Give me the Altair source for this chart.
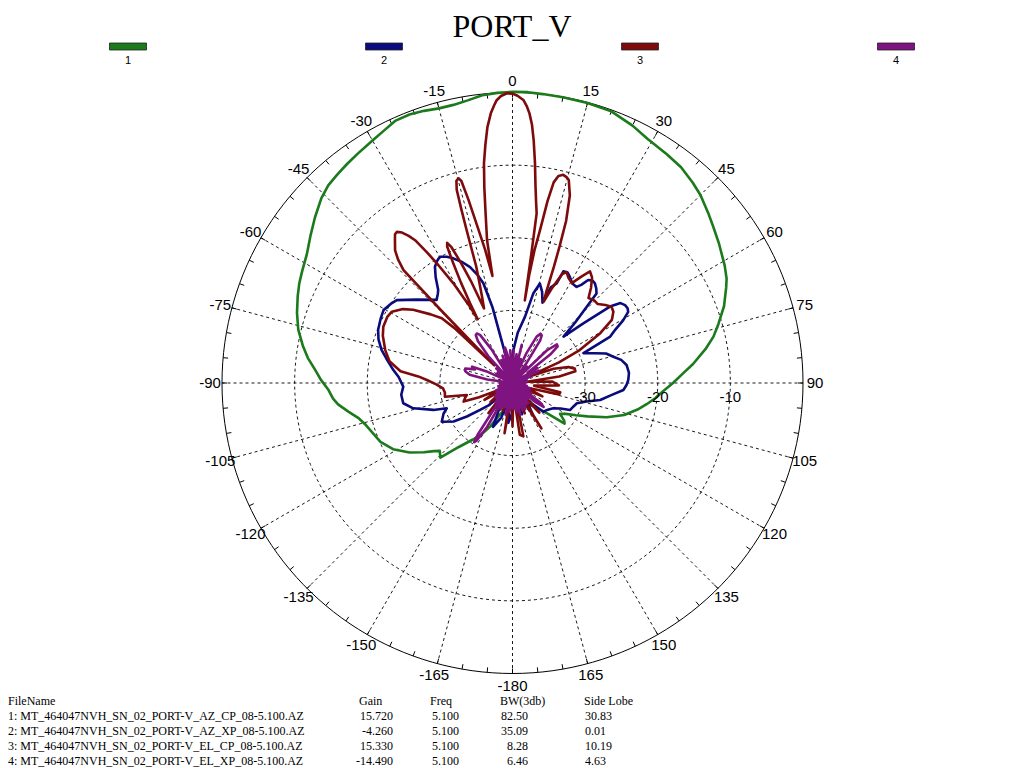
import altair as alt
import pandas as pd

TITLE = "PORT_V"
SERIES = ["1", "2", "3", "4"]
COLORS = ["#1b7a1b", "#0b0b7d", "#7d0b0b", "#7f137f"]

# (angle deg, level dB)
GREEN = [(-180,-37.5),(-170,-37),(-162,-36),(-157,-35),(-153,-33.3),(-149,-31.8),(-145,-30.5),(-140,-28.5),
         (-136,-25.7),(-133,-26.3),(-131,-25.7),(-128,-24.5),(-124,-22.9),(-119,-21.2),(-114,-20.1),(-110,-19.6),
         (-106,-19.0),(-103,-18.3),(-100,-17.1),(-97,-15.8),(-95,-15.2),(-92,-14.6),(-89,-13.6),(-86,-12.7),
         (-83,-11.6),(-80,-10.7),(-76,-9.6),(-72,-8.8),(-68,-8.1),(-65,-7.6),(-62,-7.2),(-58,-6.6),(-54,-5.6),
         (-50,-4.5),(-46,-3.4),(-43,-2.8),(-40,-2.5),(-37,-2.2),(-34,-1.9),(-30,-1.45),(-27,-1.0),(-24,-0.45),
         (-21,-0.4),(-18,-0.6),(-15,-0.85),(-12,-0.85),(-9,-0.6),(-6,-0.15),(-3,0),(0,0.1),(3,0.1),(6,0),
         (10,-0.05),(15,-0.1),(20,-0.2),(25,-0.9),(29,-1.6),(34,-2.0),(38,-2.3),(42,-2.9),(45,-3.4),(49,-4.3),
         (52,-4.95),(56,-5.7),(61,-6.6),(64,-7.2),(66,-7.8),(70,-9.0),(74,-10.5),(77,-11.6),(80,-13.0),
         (84,-15.0),(87,-16.6),(90,-17.9),(93,-19.2),(96,-20.2),(99,-21.3),(102,-22.4),(106,-24.0),(110,-26.2),
         (114,-28.7),(117,-30.2),(120,-31.5),(123,-32.2),(126,-31.2),(128,-30.9),(131,-33.5),(135,-35),
         (140,-36),(150,-36.5),(160,-37),(170,-37.5),(180,-37.5)]

BLUE = [(-180,-36),(-174,-34.5),(-168,-38),(-162,-35),(-156,-33.4),(-150,-37),(-144,-35.5),(-138,-37.5),
        (-133,-35.5),(-129.7,-34.2),(-126.3,-32.2),(-123.2,-30.3),(-118.7,-28.9),(-114,-29.6),(-111,-30.3),
        (-108.8,-28.5),(-104.3,-25.9),(-100.5,-24.7),(-96,-24.6),(-91.9,-24.95),(-87,-24.3),(-83.8,-23.5),
        (-79,-22.3),(-75.8,-21.4),(-72,-20.6),(-68.4,-20.1),(-64,-19.8),(-60.5,-19.6),(-57,-20),(-54.4,-20.4),
        (-49,-22.5),(-42.4,-24.5),(-40,-24),(-38.6,-23.6),(-36,-22),(-33.7,-20.75),(-31.5,-20.2),(-29.9,-19.95),
        (-27.5,-20.4),(-25.4,-21),(-22.5,-22),(-20.1,-23),(-18,-24.3),(-16.3,-25.7),(-14.8,-29.2),(-14.5,-33),
        (-12,-38.5),(-8,-36.5),(-4,-39),(-1,-36.5),(1.4,-35.5),(6,-33),(10.7,-30.7),(13.1,-27.3),(15.4,-25.8),
        (18,-26.8),(20.5,-28.2),(21.8,-25.8),(23.9,-25),(24.5,-23.1),(26.5,-23),(28.4,-23.4),(31,-24),
        (33.7,-24.1),(35,-23.5),(36.3,-22.4),(38,-22.1),(39.6,-22.2),(41.5,-22.6),(43.2,-23.1),(44.2,-25.3),
        (46,-28),(47.7,-30.5),(49.9,-27.25),(51.9,-22.95),(53.5,-21.5),(55.3,-21.15),(57,-21.1),(58.4,-21.3),
        (60.5,-22.5),(62.5,-24),(64.6,-25.1),(67.2,-29.4),(70,-28),(72.5,-26.5),(75.4,-25.65),(78,-24.7),
        (81,-24.1),(85,-23.9),(88.5,-24.05),(91,-24.3),(93.6,-24.7),(97,-26.3),(101,-27.7),(104,-29.5),
        (107.5,-30.7),(111,-31),(115.2,-31.25),(118,-32.5),(121.8,-33.4),(127,-33.9),(133,-34.2),(140,-37),
        (147,-35),(155,-38),(163,-35.5),(172,-38),(180,-36)]

RED = [(-180,-34),(-175,-38.5),(-171,-33),(-167,-39),(-161,-36),(-156,-39.5),(-150,-35.5),(-145,-38.5),
       (-141.4,-34.7),(-137,-39),(-131,-36),(-126,-38.5),(-121,-35.5),(-117,-38),(-113,-35),(-110.8,-32.8),
       (-107,-33.2),(-104.7,-33.5),(-101.5,-30.5),(-98,-30.6),(-94.4,-30.4),(-91,-29.5),(-88,-28.2),(-86,-27),
       (-84,-24.5),(-80,-22.8),(-75.5,-21.9),(-70,-21),(-66.5,-20.6),(-62,-20.5),(-59.4,-20.7),(-56,-21.8),
       (-53.6,-23),(-50,-25.3),(-47.5,-26.8),(-46.6,-29),(-45.8,-36.5),(-45,-33),(-44.5,-26),(-44,-18.4),
       (-42.8,-16.8),(-41.5,-15.6),(-39.4,-14.5),(-38.3,-13.9),(-37.4,-13.8),(-36.3,-14.3),(-35.2,-15.2),
       (-34.3,-16.2),(-33.2,-18.5),(-32.3,-20.5),(-30.7,-24),(-29.8,-26.5),(-29.1,-28),(-28.6,-30),
       (-28.0,-27.5),(-27.2,-24.5),(-26.3,-21.5),(-25.6,-19.2),(-25.0,-18.7),(-24.2,-19.5),(-23.2,-22),
       (-22.2,-24.8),(-21.5,-27.5),(-20.9,-29),(-19.5,-27.5),(-18.2,-25.3),(-17.3,-23.2),(-16.9,-20),
       (-16.7,-18),(-16.4,-15),(-16.1,-12.3),(-15.5,-11.1),(-14.8,-10.85),(-14.2,-11.3),(-13.5,-14.1),
       (-12.5,-18.4),(-11.6,-21.3),(-10.6,-25),(-10.1,-20),(-9,-16.3),(-8.2,-12.8),(-7.4,-9.5),(-6.5,-7),
       (-5.6,-4.6),(-4.6,-2.75),(-3.8,-1.7),(-3.2,-1.0),(-2.3,-0.45),(-1.1,-0.1),(0,-0.15),(1,-0.45),
       (2.2,-1.0),(3,-1.9),(3.6,-2.8),(4.3,-4.3),(5,-6.5),(5.85,-9.6),(6.6,-12.5),(7.4,-14.8),(8.1,-16.4),
       (8.3,-22),(8.5,-28.5),(8.8,-25),(9.4,-21.5),(10.2,-18.6),(10.9,-14.5),(11.6,-11.8),(12.5,-10.8),
       (13.7,-10.5),(14.7,-10.7),(15.5,-11.0),(17,-13),(18.3,-16.5),(19,-20),(19.6,-23),(20.3,-26.5),(21,-28),
       (22.5,-26),(24.5,-23.5),(26,-23),(28,-23.6),(30.7,-24),(33,-22.5),(34.8,-21.3),(37,-21.8),(39.5,-23),
       (41.8,-24.3),(44.5,-24),(47.2,-24),(50,-23.3),(52.4,-22.8),(54.8,-23.0),(57.6,-23.8),(60.4,-26.1),
       (63.9,-29.7),(66,-33),(68,-38),(71,-34),(74,-32),(77,-31.2),(79.5,-31.2),(82,-33.5),(85,-38),(88,-34.5),
       (93,-33.6),(97,-37),(101,-33.3),(104,-33.4),(108,-38),(114,-35.5),(120,-39),(126,-35),(132,-39),
       (138,-34.5),(143,-38.5),(147.5,-32.6),(152,-39),(158,-35.5),(163,-39),(168.5,-32.5),(172,-32.8),
       (175,-38.5),(180,-34)]

PURPLE = [(-180,-36.5),(-177,-40),(-174,-36),(-171,-40),(-168,-35.5),(-165,-40),(-162,-36.5),(-159,-40),
          (-156,-36),(-153,-39.5),(-150,-33),(-148,-30.6),(-147,-30.3),(-146,-31.5),(-144,-36.5),(-141,-40),
          (-138,-36.5),(-135,-40),(-132,-37),(-129,-40),(-126,-37),(-123,-40),(-120,-37.5),(-117,-40),
          (-114,-37.5),(-111,-40),(-108,-38),(-105,-40),(-102,-38),(-99,-40),(-96,-38.3),(-93,-40),
          (-90,-38.3),(-86,-40),(-82,-36.5),(-79,-34),(-76,-33.3),(-73,-33.2),(-70,-34.5),(-68,-34),(-66,-36),
          (-63,-40),(-60,-37.5),(-57,-40),(-54,-37.5),(-51,-40),(-48,-37),(-45,-40),(-42,-35),(-39.5,-32.5),
          (-37.5,-31.7),(-35.8,-31.6),(-34,-32),(-32,-34.5),(-29,-40),(-26,-36.5),(-23,-40),(-20,-36),(-17,-40),
          (-14,-35.5),(-12,-35),(-10,-36),(-7,-40),(-4,-35.5),(-1,-40),(2,-35.5),(5,-40),(8,-36),(11,-40),
          (13.6,-34.6),(16,-40),(19,-36.5),(22,-40),(25,-35.5),(27.5,-32.8),(29.5,-32.2),(31.5,-32.3),(33,-33),
          (35,-36.5),(38,-40),(41,-37),(44,-40),(46.5,-33.5),(49,-31.9),(51,-32),(53,-33.5),(56,-37.5),(59,-36),
          (62,-40),(65,-36),(68,-40),(71,-37.5),(74,-40),(77,-38),(80,-40),(83,-38),(86,-40),(89,-38.3),
          (92,-40),(95,-38.3),(98,-40),(101,-38),(104,-40),(107,-37.5),(110,-40),(113,-37.5),(116,-40),(119,-37),
          (122,-38.5),(125,-35.5),(127.6,-34.6),(130,-36),(133,-40),(136,-37),(139,-40),(142,-36.5),(145,-40),
          (148,-36.5),(151,-40),(154,-36),(157,-40),(160,-36),(163,-40),(166,-35.5),(169,-40),(172,-36),
          (175,-40),(178,-36.5),(180,-36.5)]

ANGLE_TICKS = list(range(0, 360, 15))
ANGLE_LABELS = ["0", "15", "30", "45", "60", "75", "90", "105", "120", "135", "150", "165",
                "-180", "-165", "-150", "-135", "-120", "-105", "-90", "-75", "-60", "-45", "-30", "-15"]
RING_DB = [-30, -20, -10]
RING_LABELS = ["-30", "-20", "-10"]
DB_MIN, DB_MAX = -40.0, 0.0

HEADERS = ["FileName", "Gain", "Freq", "BW(3db)", "Side Lobe"]
FILES = ["1: MT_464047NVH_SN_02_PORT-V_AZ_CP_08-5.100.AZ",
         "2: MT_464047NVH_SN_02_PORT-V_AZ_XP_08-5.100.AZ",
         "3: MT_464047NVH_SN_02_PORT-V_EL_CP_08-5.100.AZ",
         "4: MT_464047NVH_SN_02_PORT-V_EL_XP_08-5.100.AZ"]
GAIN = ["15.720", "-4.260", "15.330", "-14.490"]
FREQ = ["5.100", "5.100", "5.100", "5.100"]
BW3DB = ["82.50", "35.09", "8.28", "6.46"]
SIDE_LOBE = ["30.83", "0.01", "10.19", "4.63"]

# ---------------- layout ----------------
W, H = 1008, 760
CX, CY = 504.5, 375.0
RADIUS_PX = 290.5
UNIT = RADIUS_PX / (DB_MAX - DB_MIN)
RMAX = DB_MAX - DB_MIN
XS = alt.Scale(domain=[-CX / UNIT, (W - CX) / UNIT], nice=False, zero=False)
YS = alt.Scale(domain=[-(H - CY) / UNIT, CY / UNIT], nice=False, zero=False)
SANS = "Liberation Sans"
SERIF = "Liberation Serif"

rows = []
for s, pts in zip(SERIES, [GREEN, BLUE, RED, PURPLE]):
    for i, (a, d) in enumerate(pts):
        rows.append({"series": s, "i": i, "ang": a, "db": d})
curves = pd.DataFrame(rows)

def pos(chart, rexpr, aexpr):
    return chart.transform_calculate(
        px=f"({rexpr}) * sin(({aexpr}) * PI / 180)",
        py=f"({rexpr}) * cos(({aexpr}) * PI / 180)",
    )

X = alt.X("px:Q", scale=XS, axis=None)
Y = alt.Y("py:Q", scale=YS, axis=None)

# grid rings
ring_rows = []
for lev in RING_DB + [DB_MAX]:
    for a in range(0, 362, 2):
        ring_rows.append({"lev": lev, "a": a, "solid": lev == DB_MAX})
rings_df = pd.DataFrame(ring_rows)
rings_dashed = pos(alt.Chart(rings_df).transform_filter("!datum.solid"),
                   f"datum.lev - {DB_MIN}", "datum.a").mark_line(
    color="black", strokeWidth=0.9, strokeDash=[3, 3]).encode(x=X, y=Y, detail="lev:N", order="a:Q")
ring_outer = pos(alt.Chart(rings_df).transform_filter("datum.solid"),
                 f"datum.lev - {DB_MIN}", "datum.a").mark_line(
    color="black", strokeWidth=1).encode(x=X, y=Y, order="a:Q")

spokes_df = pd.DataFrame({"a": ANGLE_TICKS})
spokes = alt.Chart(spokes_df).transform_calculate(
    x0="0", y0="0",
    x1=f"{RMAX} * sin(datum.a * PI / 180)",
    y1=f"{RMAX} * cos(datum.a * PI / 180)",
).mark_rule(color="black", strokeWidth=0.9, strokeDash=[3, 3]).encode(
    x=alt.X("x0:Q", scale=XS, axis=None), y=alt.Y("y0:Q", scale=YS, axis=None),
    x2="x1:Q", y2="y1:Q")

ticks_df = pd.DataFrame({"a": list(range(0, 360, 5))})
TICK_IN = RMAX - 5.0 / UNIT
ticks = alt.Chart(ticks_df).transform_calculate(
    x0=f"{TICK_IN} * sin(datum.a * PI / 180)",
    y0=f"{TICK_IN} * cos(datum.a * PI / 180)",
    x1=f"{RMAX} * sin(datum.a * PI / 180)",
    y1=f"{RMAX} * cos(datum.a * PI / 180)",
).mark_rule(color="black", strokeWidth=1).encode(
    x=alt.X("x0:Q", scale=XS, axis=None), y=alt.Y("y0:Q", scale=YS, axis=None),
    x2="x1:Q", y2="y1:Q")

curve_layers = []
for s, c in zip(SERIES, COLORS):
    curve_layers.append(
        pos(alt.Chart(curves).transform_filter(alt.datum.series == s),
            f"max(datum.db - {DB_MIN}, 0)", "datum.ang").mark_line(
            color=c, strokeWidth=2.6, strokeJoin="round", strokeCap="round").encode(x=X, y=Y, order="i:Q"))

alab_df = pd.DataFrame({"a": ANGLE_TICKS, "t": ANGLE_LABELS})
LABEL_R = RMAX + 12.0 / UNIT
angle_labels = pos(alt.Chart(alab_df), f"{LABEL_R}", "datum.a").mark_text(
    font=SANS, fontSize=15, color="black", align="center", baseline="middle").encode(x=X, y=Y, text="t:N")

rlab_df = pd.DataFrame({"lev": RING_DB, "t": RING_LABELS})
ring_labels = alt.Chart(rlab_df).transform_calculate(
    px=f"datum.lev - {DB_MIN}", py=f"{-14.0 / UNIT}").mark_text(
    font=SANS, fontSize=15, color="black", align="center", baseline="middle").encode(x=X, y=Y, text="t:N")

polar = alt.layer(rings_dashed, ring_outer, spokes, ticks, *curve_layers, angle_labels, ring_labels)

# title
title = alt.Chart(pd.DataFrame({"t": [TITLE]})).mark_text(
    font=SERIF, fontSize=32, color="black", align="center", baseline="alphabetic").encode(
    x=alt.value(504), y=alt.value(29), text="t:N")

# legend (custom, horizontal across top)
leg_df = pd.DataFrame({"s": SERIES})
LEG_X = alt.X("s:N", scale=alt.Scale(type="point", domain=SERIES, range=[-8, W + 8], padding=0.5), axis=None)
LEG_C = alt.Color("s:N", scale=alt.Scale(domain=SERIES, range=COLORS), legend=None)
leg_sw = alt.Chart(leg_df).mark_tick(orient="horizontal", size=37, thickness=7, stroke="#222222",
                                     strokeWidth=0.8, opacity=1).encode(
    x=LEG_X, y=alt.value(38.5), color=LEG_C)
leg_tx = alt.Chart(leg_df).mark_text(font=SANS, fontSize=11, color="black", baseline="middle").encode(
    x=LEG_X, y=alt.value(53), text="s:N")

# footer table
hdr_x = [0, 351, 422, 492, 576]
hdr_layers = []
for h, hx in zip(HEADERS, hdr_x):
    hdr_layers.append(alt.Chart(pd.DataFrame({"t": [h]})).mark_text(
        font=SERIF, fontSize=12, color="black", align="left", baseline="middle").encode(
        x=alt.value(hx), y=alt.value(693), text="t:N"))

tab = pd.DataFrame({"row": [0, 1, 2, 3], "file": FILES, "gain": GAIN, "freq": FREQ, "bw": BW3DB, "sl": SIDE_LOBE})
ROW_Y = alt.Y("row:O", scale=alt.Scale(type="point", domain=[0, 1, 2, 3], range=[708, 753], padding=0), axis=None)
col_specs = [("file", 0, "left"), ("gain", 385, "right"), ("freq", 424, "left"),
             ("bw", 520, "right"), ("sl", 577, "left")]
col_layers = []
for field, cx, al in col_specs:
    col_layers.append(alt.Chart(tab).mark_text(
        font=SERIF, fontSize=12, color="black", align=al, baseline="middle").encode(
        x=alt.value(cx), y=ROW_Y, text=f"{field}:N"))

chart = alt.layer(polar, title, leg_sw, leg_tx, *hdr_layers, *col_layers).resolve_scale(
    x="independent", y="independent", color="independent"
).properties(width=W, height=H, autosize="none", padding=0).configure_view(stroke=None)

chart.save("out.html", embed_options={"renderer": "svg", "actions": False})
